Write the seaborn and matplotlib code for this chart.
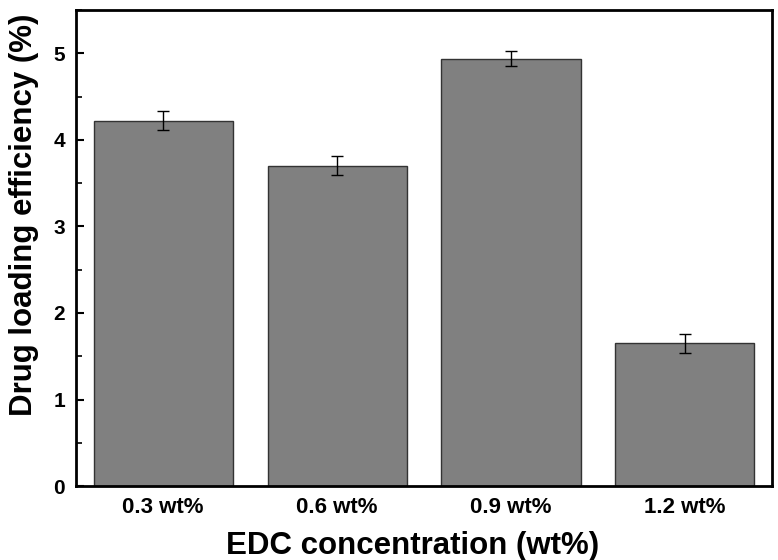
import pandas as pd
import matplotlib
matplotlib.use('Agg')
import matplotlib.pyplot as plt
import seaborn as sns
from matplotlib.ticker import MultipleLocator

concentrations = ['0.3 wt%', '0.6 wt%', '0.9 wt%', '1.2 wt%']
loading = [4.22, 3.70, 4.94, 1.65]
loading_err = [0.11, 0.11, 0.09, 0.11]

sns.set_style('ticks')
plt.rcParams['font.family'] = ['Liberation Sans', 'DejaVu Sans']
plt.rcParams['font.weight'] = 'bold'
plt.rcParams['text.color'] = 'black'
plt.rcParams['axes.labelcolor'] = 'black'
plt.rcParams['xtick.color'] = 'black'
plt.rcParams['ytick.color'] = 'black'
plt.rcParams['axes.edgecolor'] = 'black'

df = pd.DataFrame({'conc': concentrations, 'loading': loading})

fig = plt.figure(figsize=(7.78, 5.6), dpi=100)
ax = fig.add_axes([0.098, 0.132, 0.894, 0.850])

sns.barplot(data=df, x='conc', y='loading', color='#808080', saturation=1,
            width=0.8, edgecolor='#333333', linewidth=1, errorbar=None, ax=ax)
ax.errorbar(range(len(loading)), loading, yerr=loading_err, fmt='none',
            ecolor='black', elinewidth=1, capsize=4, capthick=1)

ax.set_xlim(-0.5, 3.5)
ax.set_ylim(0, 5.5)
ax.yaxis.set_major_locator(MultipleLocator(1))
ax.yaxis.set_minor_locator(MultipleLocator(0.5))
ax.tick_params(axis='both', which='both', direction='in')
ax.tick_params(axis='x', labelsize=16, pad=8)
ax.tick_params(axis='y', labelsize=15, pad=8)
ax.tick_params(axis='both', which='major', length=6, width=1.5)
ax.tick_params(axis='y', which='minor', length=4, width=1.2)
for s in ax.spines.values():
    s.set_visible(True)
    s.set_linewidth(2)

ax.set_xlabel('EDC concentration (wt%)', fontsize=22.5, fontweight='bold')
ax.set_ylabel('Drug loading efficiency (%)', fontsize=22.5, fontweight='bold')
ax.xaxis.set_label_coords(0.483, -0.095)
ax.yaxis.set_label_coords(-0.053, 0.569)

plt.savefig('out.png', dpi=100)
plt.close()
